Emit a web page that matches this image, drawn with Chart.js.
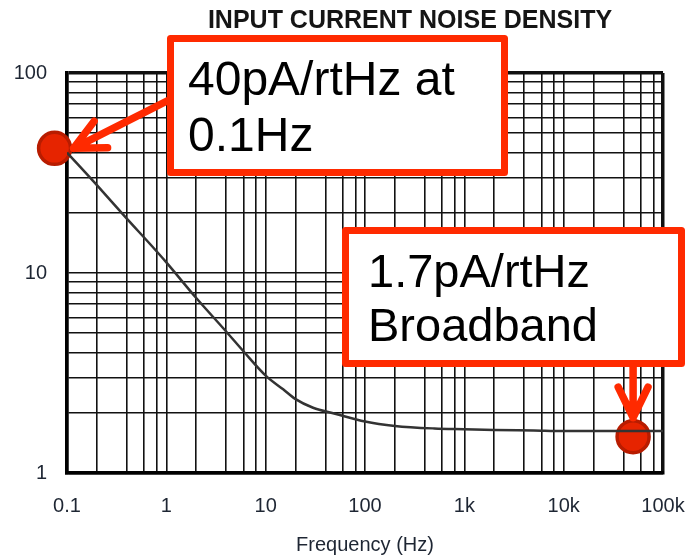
<!DOCTYPE html>
<html>
<head>
<meta charset="utf-8">
<script src="https://cdn.jsdelivr.net/npm/chart.js@4.4.1/dist/chart.umd.min.js"></script>
<style>
    html, body { margin: 0; padding: 0; background: #fff; }
</style>
</head>
<body>
<canvas id="noiseChart" width="689" height="557"></canvas>
<script>
// Noise curve (Hz -> pA/rtHz)
const frequencies = [0.1, 0.2, 0.4, 0.7, 1, 2, 4, 6, 10, 15, 20, 30, 50, 100, 200, 500, 1000, 2000, 5000, 10000, 20000, 50000, 100000];
const noiseDensity = [40, 27.5, 18.7, 13.8, 11.3, 7.5, 5.1, 4.05, 3.07, 2.62, 2.34, 2.12, 1.98, 1.81, 1.72, 1.67, 1.655, 1.64, 1.63, 1.62, 1.62, 1.62, 1.62];

// Red callout markers
const markerFreqs = [0.075, 50000];
const markerValues = [42, 1.52];

// Axis grid and labels
const xDecades = [0.1, 1, 10, 100, 1000, 10000, 100000];
const xDecadeLabels = ['0.1', '1', '10', '100', '1k', '10k', '100k'];
const xGridSteps = [1, 2, 4, 6, 8];
const yDecades = [1, 10, 100];
const yDecadeLabels = ['1', '10', '100'];
const yGridSteps = [1, 2, 3, 4, 5, 6, 7, 8, 9];

// Callout texts
const calloutLeft = ['40pA/rtHz at', '0.1Hz'];
const calloutRight = ['1.7pA/rtHz', 'Broadband'];

const FONT = "'Liberation Sans', Arial, Helvetica, sans-serif";
const RED = '#ff2a00';
const LABEL_COLOR = '#1e2633';

function gridValues(decades, steps) {
    const values = [];
    decades.forEach((d, i) => {
        if (i === decades.length - 1) {
            values.push(d);
        } else {
            steps.forEach(s => values.push(d * s));
        }
    });
    return values;
}

function decadeLabel(value, decades, labels) {
    for (let i = 0; i < decades.length; i++) {
        if (Math.abs(value - decades[i]) / decades[i] < 1e-6) return labels[i];
    }
    return '';
}

const xTicks = gridValues(xDecades, xGridSteps);
const yTicks = gridValues(yDecades, yGridSteps);

function edgeWidth(ctx, min, max) {
    if (!ctx.tick) return 1.5;
    const v = ctx.tick.value;
    return (Math.abs(v - min) / min < 1e-6 || Math.abs(v - max) / max < 1e-6) ? 3.5 : 1.6;
}

function drawArrow(ctx, x0, y0, x1, y1) {
    const ang = Math.atan2(y0 - y1, x0 - x1);
    const len = 34;
    const spread = 26 * Math.PI / 180;
    ctx.beginPath();
    ctx.moveTo(x0, y0);
    ctx.lineTo(x1, y1);
    ctx.moveTo(x1 + len * Math.cos(ang + spread), y1 + len * Math.sin(ang + spread));
    ctx.lineTo(x1, y1);
    ctx.lineTo(x1 + len * Math.cos(ang - spread), y1 + len * Math.sin(ang - spread));
    ctx.stroke();
}

function drawBox(ctx, x, y, w, h, lines, textX, baselines, size) {
    ctx.save();
    ctx.fillStyle = '#fff';
    ctx.fillRect(x, y, w, h);
    ctx.strokeStyle = RED;
    ctx.lineWidth = 7;
    ctx.lineJoin = 'round';
    ctx.strokeRect(x, y, w, h);
    ctx.fillStyle = '#000';
    ctx.font = size + 'px ' + FONT;
    ctx.textAlign = 'left';
    ctx.textBaseline = 'alphabetic';
    lines.forEach((t, i) => ctx.fillText(t, textX, baselines[i]));
    ctx.restore();
}

// Title, callout boxes and arrows on top of the plot
const calloutPlugin = {
    id: 'callouts',
    afterDraw(chart) {
        const ctx = chart.ctx;
        ctx.save();
        ctx.fillStyle = '#151515';
        ctx.font = 'bold 25px ' + FONT;
        ctx.textAlign = 'center';
        ctx.textBaseline = 'middle';
        ctx.fillText('INPUT CURRENT NOISE DENSITY', 410, 21);
        ctx.restore();

        drawBox(ctx, 170.5, 38.5, 334, 134, calloutLeft, 188, [95, 151], 48);
        drawBox(ctx, 345.5, 230.5, 336, 133, calloutRight, 368, [287, 341], 47);

        const pts = chart.getDatasetMeta(1).data;
        ctx.save();
        ctx.strokeStyle = RED;
        ctx.lineWidth = 7.5;
        ctx.lineCap = 'round';
        ctx.lineJoin = 'round';
        drawArrow(ctx, 167, 101, pts[0].x + 19, pts[0].y);
        drawArrow(ctx, pts[1].x, 367, pts[1].x, pts[1].y - 19);
        ctx.restore();
    }
};

new Chart(document.getElementById('noiseChart').getContext('2d'), {
    type: 'line',
    data: {
        datasets: [{
            data: frequencies.map((f, i) => ({ x: f, y: noiseDensity[i] })),
            borderColor: '#333',
            borderWidth: 2.5,
            pointRadius: 0,
            cubicInterpolationMode: 'monotone',
            fill: false
        }, {
            data: markerFreqs.map((f, i) => ({ x: f, y: markerValues[i] })),
            showLine: false,
            pointRadius: 16,
            pointBackgroundColor: '#e62400',
            pointBorderColor: '#b81c00',
            pointBorderWidth: 3.5,
            clip: false
        }]
    },
    options: {
        responsive: false,
        devicePixelRatio: 1,
        animation: false,
        layout: { padding: { top: 73, right: 26, bottom: 0, left: 0 } },
        plugins: {
            legend: { display: false },
            title: { display: false },
            tooltip: { enabled: false }
        },
        scales: {
            x: {
                type: 'logarithmic',
                min: 0.1,
                max: 100000,
                afterBuildTicks: s => { s.ticks = xTicks.map(v => ({ value: v })); },
                afterFit: s => { s.height = 84; s.paddingLeft = 0; s.paddingRight = 0; },
                ticks: {
                    autoSkip: false,
                    maxRotation: 0,
                    padding: 21,
                    color: LABEL_COLOR,
                    font: { family: FONT, size: 20 },
                    callback: v => decadeLabel(v, xDecades, xDecadeLabels)
                },
                grid: {
                    color: '#111',
                    lineWidth: c => edgeWidth(c, 0.1, 100000),
                    drawTicks: false
                },
                border: { display: true, color: '#000', width: 3.5 },
                title: {
                    display: true,
                    text: 'Frequency (Hz)',
                    color: LABEL_COLOR,
                    font: { family: FONT, size: 20 },
                    padding: 0
                }
            },
            y: {
                type: 'logarithmic',
                min: 1,
                max: 100,
                afterBuildTicks: s => { s.ticks = yTicks.map(v => ({ value: v })); },
                afterFit: s => { s.width = 67; s.paddingTop = 0; s.paddingBottom = 0; },
                ticks: {
                    autoSkip: false,
                    padding: 20,
                    color: LABEL_COLOR,
                    font: { family: FONT, size: 20 },
                    callback: v => decadeLabel(v, yDecades, yDecadeLabels)
                },
                grid: {
                    color: '#111',
                    lineWidth: c => edgeWidth(c, 1, 100),
                    drawTicks: false
                },
                border: { display: true, color: '#000', width: 3.5 }
            }
        }
    },
    plugins: [calloutPlugin]
});
</script>
</body>
</html>
